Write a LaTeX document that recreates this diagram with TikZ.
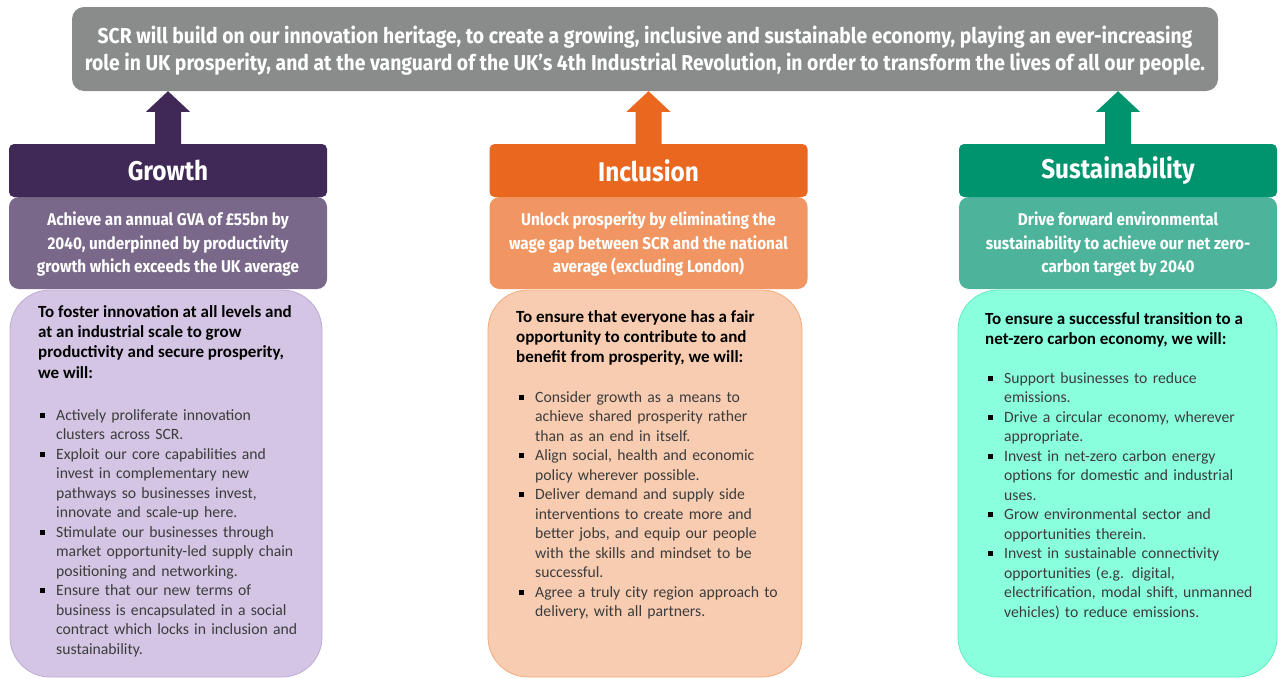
\documentclass[tikz,border=0pt]{standalone}
\usepackage{fontspec}
\setmainfont{Carlito}
\newfontfamily\headfont[FakeStretch=0.9]{Fira Sans}
\usetikzlibrary{calc}
\setlength{\parskip}{0pt}
\definecolor{bannergray}{RGB}{138,140,140}
\definecolor{gdark}{RGB}{64,41,86}
\definecolor{gmid}{RGB}{121,104,138}
\definecolor{glight}{RGB}{211,197,227}
\definecolor{gline}{RGB}{190,170,215}
\definecolor{idark}{RGB}{233,103,31}
\definecolor{imid}{RGB}{241,150,98}
\definecolor{ilight}{RGB}{248,204,177}
\definecolor{iline}{RGB}{243,170,125}
\definecolor{sdark}{RGB}{0,148,110}
\definecolor{smid}{RGB}{77,179,154}
\definecolor{slight}{RGB}{138,255,222}
\definecolor{sline}{RGB}{100,235,195}
\definecolor{bodytext}{RGB}{60,60,60}
\newcommand{\bitem}[1]{\noindent\hangindent=18pt\hangafter=1\makebox[18pt][l]{\hspace{2pt}\raisebox{2.6pt}{\color{black}\rule{5pt}{5pt}}}#1\par}
\begin{document}
\begin{tikzpicture}[x=1pt,y=-1pt,
  banner/.style={fill=bannergray, rounded corners=12pt, inner sep=0pt, text=white, align=center,
    font=\headfont\bfseries\fontsize{21.5}{27}\selectfont},
  headbox/.style={rounded corners=5pt, inner sep=0pt, minimum width=318pt, minimum height=53pt,
    text=white, font=\headfont\bfseries\fontsize{27}{30}\selectfont},
  subbox/.style={rounded corners=10pt, inner sep=0pt, minimum width=318pt, minimum height=92pt,
    text=white, align=center, font=\headfont\bfseries\fontsize{17}{23.5}\selectfont},
  bodybox/.style={rounded corners=40pt, inner sep=0pt, minimum height=387pt, line width=0.8pt},
  bodytitle/.style={anchor=north west, inner sep=0pt, align=left, text=black,
    font=\bfseries\fontsize{17}{20.3}\selectfont},
  bodylist/.style={anchor=north west, inner sep=0pt, text width=300pt, align=left, text=bodytext,
    font=\fontsize{15.7}{19.5}\selectfont}
]
\useasboundingbox (0,0) rectangle (1282,678);

% banner
\node[banner, minimum width=1146pt, minimum height=84pt] (banner) at (645,49)
  {\rule{0pt}{20pt}SCR will build on our innovation heritage, to create a growing, inclusive and sustainable economy, playing an ever-increasing\\
   role in UK prosperity, and at the vanguard of the UK’s 4th Industrial Revolution, in order to transform the lives of all our people.};

% sub-heading boxes
\node[subbox, fill=gmid] (gsub) at (168,243) {\rule{0pt}{16.5pt}Achieve an annual GVA of £55bn by\\2040, underpinned by productivity\\growth which exceeds the UK average};
\node[subbox, fill=imid] (isub) at (648.5,243) {\rule{0pt}{16.5pt}Unlock prosperity by eliminating the\\wage gap between SCR and the national\\average (excluding London)};
\node[subbox, fill=smid] (ssub) at (1118,243) {\rule{0pt}{16.5pt}Drive forward environmental\\sustainability to achieve our net zero-\\carbon target by 2040};

% headers
\node[headbox, fill=gdark] (gh) at (168,170.5) {Growth};
\node[headbox, fill=idark] (ih) at (648.5,170.5) {Inclusion};
\node[headbox, fill=sdark] (sh) at (1118,170.5) {Sustainability};

% block arrows
\foreach \h/\c in {gh/gdark, ih/idark, sh/sdark}{
  \fill[\c] ([xshift=-13pt]\h.north) -- ([xshift=-13pt,yshift=32pt]\h.north)
    -- ([xshift=-22pt,yshift=32pt]\h.north) -- (\h.north |- banner.south)
    -- ([xshift=22pt,yshift=32pt]\h.north) -- ([xshift=13pt,yshift=32pt]\h.north)
    -- ([xshift=13pt]\h.north) -- cycle;
}

% body boxes
\node[bodybox, fill=glight, draw=gline, minimum width=312pt] (gbody) at (166,483.5) {};
\node[bodybox, fill=ilight, draw=iline, minimum width=314pt] (ibody) at (645,483.5) {};
\node[bodybox, fill=slight, draw=sline, minimum width=319pt] (sbody) at (1117.5,483.5) {};

% growth text
\node[bodytitle] (gtitle) at (38,305) {\rule{0pt}{12pt}To foster innovation at all levels and\\at an industrial scale to grow\\productivity and secure prosperity,\\we will:};
\node[bodylist] (glist) at (38,408) {%
\bitem{\rule{0pt}{12pt}Actively proliferate innovation\newline clusters across SCR.}
\bitem{Exploit our core capabilities and\newline invest in complementary new\newline pathways so businesses invest,\newline innovate and scale-up here.}
\bitem{Stimulate our businesses through\newline market opportunity-led supply chain\newline positioning and networking.}
\bitem{Ensure that our new terms of\newline business is encapsulated in a social\newline contract which locks in inclusion and\newline sustainability.}};

% inclusion text
\node[bodytitle] (ititle) at (516,310) {\rule{0pt}{12pt}To ensure that everyone has a fair\\opportunity to contribute to and\\benefit from prosperity, we will:};
\node[bodylist] (ilist) at (517,390) {%
\bitem{\rule{0pt}{12pt}Consider growth as a means to\newline achieve shared prosperity rather\newline than as an end in itself.}
\bitem{Align social, health and economic\newline policy wherever possible.}
\bitem{Deliver demand and supply side\newline interventions to create more and\newline better jobs, and equip our people\newline with the skills and mindset to be\newline successful.}
\bitem{Agree a truly city region approach to\newline delivery, with all partners.}};

% sustainability text
\node[bodytitle] (stitle) at (985,312) {\rule{0pt}{12pt}To ensure a successful transition to a\\net-zero carbon economy, we will:};
\node[bodylist] (slist) at (986,371) {%
\bitem{\rule{0pt}{12pt}Support businesses to reduce\newline emissions.}
\bitem{Drive a circular economy, wherever\newline appropriate.}
\bitem{Invest in net-zero carbon energy\newline options for domestic and industrial\newline uses.}
\bitem{Grow environmental sector and\newline opportunities therein.}
\bitem{Invest in sustainable connectivity\newline opportunities (e.g. digital,\newline electrification, modal shift, unmanned\newline vehicles) to reduce emissions.}};
\end{tikzpicture}
\end{document}
